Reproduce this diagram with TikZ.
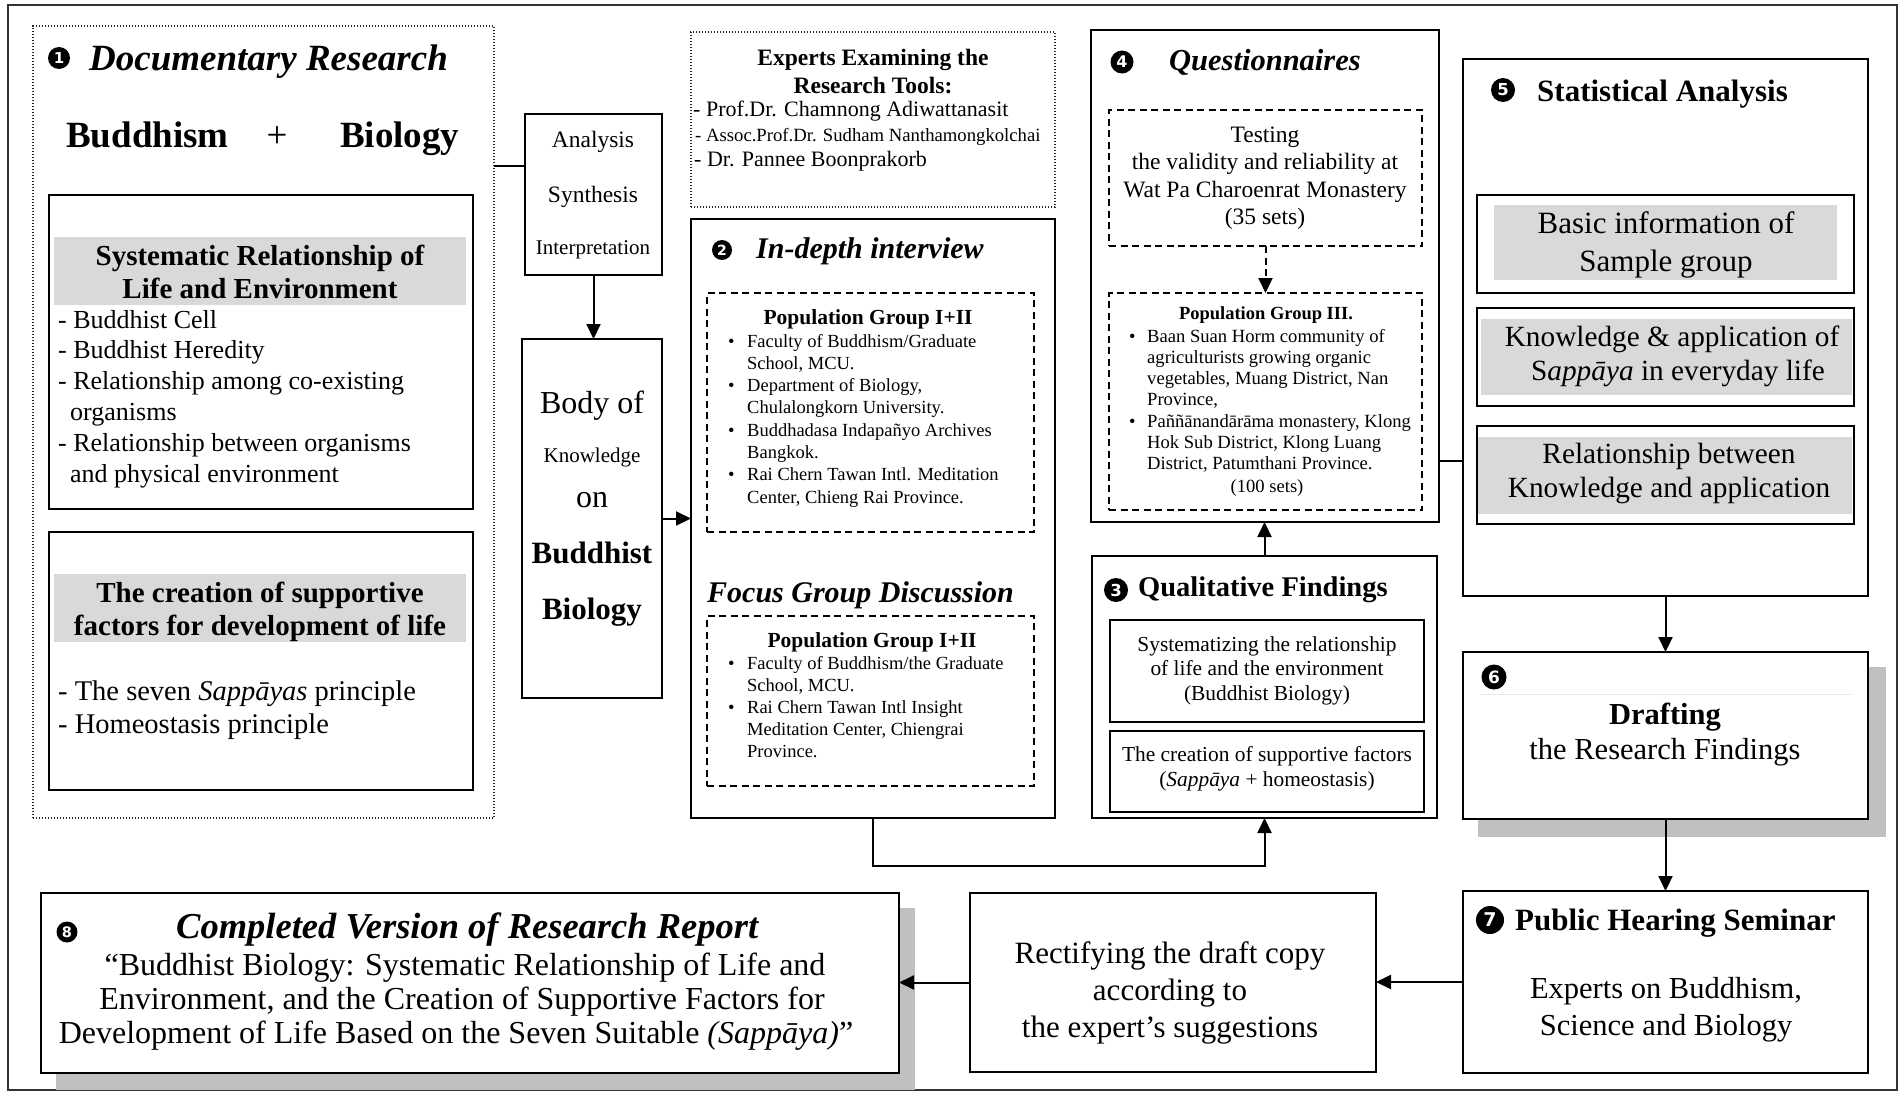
\documentclass[tikz,border=0pt]{standalone}
\usepackage{fontspec}
\setmainfont{Liberation Serif}
\newfontfamily\digitfont{DejaVu Sans}
\usetikzlibrary{arrows.meta,fit}
\definecolor{bandgray}{HTML}{D9D9D9}
\definecolor{shgray}{HTML}{BFBFBF}
\newcommand\fsz[2]{\fontsize{#1}{#2}\selectfont}
\newcommand\mlc[1]{\begin{tabular}[t]{@{}c@{}}#1\end{tabular}}
\newcommand\mll[1]{\begin{tabular}[t]{@{}l@{}}#1\end{tabular}}
\newlength\bulw
\newcommand\bul{\makebox[\bulw][l]{\textbullet}}
\newcommand\ind{\hspace*{\bulw}}
\begin{document}
\begin{tikzpicture}[x=1pt,y=-1pt,
  box/.style={draw=black,line width=2pt,inner sep=0pt,outer sep=0pt},
  dbox/.style={draw=black,line width=1.6pt,dash pattern=on 7pt off 4.5pt,inner sep=0pt,outer sep=0pt},
  dotbox/.style={draw=black!85,line width=1.3pt,dash pattern=on 1.3pt off 1.7pt,inner sep=0pt,outer sep=0pt},
  band/.style={fill=bandgray,inner sep=0pt,outer sep=0pt},
  shad/.style={fill=shgray,inner sep=0pt,outer sep=0pt},
  txt/.style={inner sep=0pt,anchor=base},
  txtl/.style={inner sep=0pt,anchor=base west},
  numc/.style={circle,fill=black,text=white,inner sep=0pt},
  conn/.style={line width=2pt},
  arr/.style={line width=2pt,-{Triangle[length=15pt,width=14pt]}},
]
\useasboundingbox (0,0) rectangle (1904,1095);
\fill[white] (0,0) rectangle (1904,1095);
% outer frame
\node[draw=black!80,line width=1.5pt,inner sep=0pt,fit={(8,5)(1897,1090)}] (frame) {};

% shadows
\node[shad,fit={(1478,667)(1886,837)}] (draftsh) {};
\node[shad,fit={(56,908)(915,1090)}] (compsh) {};

% bands
\node[band,fit={(54,237)(466,305)}] (sysband) {};
\node[band,fit={(54,574)(466,642)}] (creband) {};
\node[band,fit={(1494,205)(1837,280)}] (saband) {};
\node[band,fit={(1481,319)(1852,395)}] (sbband) {};
\node[band,fit={(1478,437)(1852,514)}] (scband) {};

% boxes
\node[dotbox,fit={(33,26)(494,818)}] (doc) {};
\node[box,fit={(49,195)(473,509)}] (sys) {};
\node[box,fit={(49,532)(473,790)}] (cre) {};
\node[box,fit={(525,114)(662,275)}] (ana) {};
\node[box,fit={(522,339)(662,698)}] (body) {};
\node[dotbox,fit={(691,32)(1055,207)}] (exp) {};
\node[box,fit={(691,219)(1055,818)}] (indepth) {};
\node[dbox,fit={(707,293)(1034,532)}] (popa) {};
\node[dbox,fit={(707,616)(1034,786)}] (popb) {};
\node[box,fit={(1092,556)(1437,818)}] (qual) {};
\node[box,fit={(1110,620)(1424,722)}] (qa) {};
\node[box,fit={(1110,731)(1424,812)}] (qb) {};
\node[box,fit={(1091,30)(1439,522)}] (quest) {};
\node[dbox,fit={(1109,110)(1422,246)}] (test) {};
\node[dbox,fit={(1109,293)(1422,510)}] (popc) {};
\node[box,fit={(1463,59)(1868,596)}] (stat) {};
\node[box,fit={(1477,195)(1854,293)}] (sa) {};
\node[box,fit={(1477,308)(1854,406)}] (sb) {};
\node[box,fit={(1477,426)(1854,524)}] (sc) {};
\node[box,fill=white,fit={(1463,652)(1868,819)}] (draft) {};
\node[box,fit={(1463,891)(1868,1073)}] (pub) {};
\node[box,fit={(970,893)(1376,1072)}] (rect) {};
\node[box,fill=white,fit={(41,893)(899,1073)}] (comp) {};
\draw[black!8,line width=1pt] (1480,694) -- (1852,694);

% number circles
\node[numc,minimum size=22pt,font=\digitfont\bfseries\fsz{15}{15}] (n1) at (59,58) {1};
\node[numc,minimum size=20pt,font=\digitfont\bfseries\fsz{14}{14}] (n2) at (722,250) {2};
\node[numc,minimum size=24pt,font=\digitfont\bfseries\fsz{16.5}{17}] (n3) at (1116,590) {3};
\node[numc,minimum size=23pt,font=\digitfont\bfseries\fsz{16}{16}] (n4) at (1122,62) {4};
\node[numc,minimum size=24pt,font=\digitfont\bfseries\fsz{16.5}{17}] (n5) at (1503,90) {5};
\node[numc,minimum size=25pt,font=\digitfont\bfseries\fsz{17}{17}] (n6) at (1494,677) {6};
\node[numc,minimum size=28pt,font=\digitfont\bfseries\fsz{19}{19}] (n7) at (1490,920) {7};
\node[numc,minimum size=21pt,font=\digitfont\bfseries\fsz{14.5}{15}] (n8) at (67,932) {8};

% Box 1 texts
\node[txtl] (t1) at (89,70) {\fsz{37}{40}\bfseries\itshape Documentary Research};
\node[txtl] (bud) at (66,147) {\fsz{37}{40}\bfseries Buddhism};
\node[txt] (plus) at (277,147) {\fsz{37}{40}+};
\node[txtl] (bio) at (340,147) {\fsz{37}{40}\bfseries Biology};
\node[txt] (sysh) at (260,265) {\fsz{29}{33}\bfseries\mlc{Systematic Relationship of\\Life and Environment}};
\node[txtl] (sysl) at (58,328) {\fsz{26}{30.8}\mll{- Buddhist Cell\\- Buddhist Heredity\\- Relationship among co-existing\\\hspace*{12pt}organisms\\- Relationship between organisms\\\hspace*{12pt}and physical environment}};
\node[txt] (creh) at (260,602) {\fsz{29}{33}\bfseries\mlc{The creation of supportive\\factors for development of life}};
\node[txtl] (crel) at (58,700) {\fsz{28.5}{33}\mll{- The seven \textit{Sappāyas} principle\\- Homeostasis principle}};

% Analysis
\node[txt] (a1) at (593,147) {\fsz{23.5}{26}Analysis};
\node[txt] (a2) at (593,202) {\fsz{23.5}{26}Synthesis};
\node[txt] (a3) at (593,254) {\fsz{21}{24}Interpretation};

% Body of knowledge
\node[txt] (b1) at (592,413) {\fsz{32}{34}Body of};
\node[txt] (b2) at (592,462) {\fsz{21}{24}Knowledge};
\node[txt] (b3) at (592,507) {\fsz{32}{34}on};
\node[txt] (b4) at (592,563) {\fsz{31}{34}\bfseries Buddhist};
\node[txt] (b5) at (592,619) {\fsz{31}{34}\bfseries Biology};

% Experts
\node[txt] (exph) at (873,65) {\fsz{23.5}{28}\bfseries\mlc{Experts Examining the\\Research Tools:}};
\node[txtl] (e1) at (693,116) {\fsz{22}{25}- Prof.Dr. Chamnong Adiwattanasit};
\node[txtl] (e2) at (695,141) {\fsz{18.7}{22}- Assoc.Prof.Dr. Sudham Nanthamongkolchai};
\node[txtl] (e3) at (694,166) {\fsz{22}{25}- Dr. Pannee Boonprakorb};

% In-depth
\node[txtl] (t2) at (756,258) {\fsz{30}{32}\bfseries\itshape In-depth interview};
\node[txt] (pah) at (868,324) {\fsz{21.5}{24}\bfseries Population Group I+II};
\node[txtl] (pal) at (728,347) {\fsz{18.5}{22.3}\setlength\bulw{19pt}\mll{\bul Faculty of Buddhism/Graduate\\\ind School, MCU.\\\bul Department of Biology,\\\ind Chulalongkorn University.\\\bul Buddhadasa Indapañyo Archives\\\ind Bangkok.\\\bul Rai Chern Tawan Intl. Meditation\\\ind Center, Chieng Rai Province.}};
\node[txtl] (tf) at (707,602) {\fsz{30}{32}\bfseries\itshape Focus Group Discussion};
\node[txt] (pbh) at (872,647) {\fsz{21.5}{24}\bfseries Population Group I+II};
\node[txtl] (pbl) at (728,669) {\fsz{18.5}{22}\setlength\bulw{19pt}\mll{\bul Faculty of Buddhism/the Graduate\\\ind School, MCU.\\\bul Rai Chern Tawan Intl Insight\\\ind Meditation Center, Chiengrai\\\ind Province.}};

% Qualitative
\node[txtl] (t3) at (1138,596) {\fsz{28.5}{30}\bfseries Qualitative Findings};
\node[txt] (qat) at (1267,651) {\fsz{21.4}{24.5}\mlc{Systematizing the relationship\\of life and the environment\\(Buddhist Biology)}};
\node[txt] (qbt) at (1267,761) {\fsz{21.4}{25}\mlc{The creation of supportive factors\\(\textit{Sappāya} + homeostasis)}};

% Questionnaires
\node[txtl] (t4) at (1169,70) {\fsz{30.5}{32}\bfseries\itshape Questionnaires};
\node[txt] (testt) at (1265,142) {\fsz{23.5}{27.5}\mlc{Testing\\the validity and reliability at\\Wat Pa Charoenrat Monastery\\(35 sets)}};
\node[txt] (pch) at (1266,319) {\fsz{18.5}{21}\bfseries Population Group III.};
\node[txtl] (pcl) at (1129,342) {\fsz{18.6}{21.3}\setlength\bulw{18pt}\mll{\bul Baan Suan Horm community of\\\ind agriculturists growing organic\\\ind vegetables, Muang District, Nan\\\ind Province,\\\bul Paññānandārāma monastery, Klong\\\ind Hok Sub District, Klong Luang\\\ind District, Patumthani Province.}};
\node[txt] (pcs) at (1267,492) {\fsz{18.6}{21}(100 sets)};

% Statistical
\node[txtl] (t5) at (1537,101) {\fsz{31}{33}\bfseries Statistical Analysis};
\node[txt] (sat) at (1666,233) {\fsz{31}{38}\mlc{Basic information of\\Sample group}};
\node[txt] (sbt1) at (1672,346) {\fsz{29.3}{34}Knowledge \& application of};
\node[txt] (sbt2) at (1678,380) {\fsz{29.3}{34}S\textit{appāya} in everyday life};
\node[txt] (sct) at (1669,463) {\fsz{29.3}{34}\mlc{Relationship between\\Knowledge and application}};

% Drafting
\node[txt] (d1) at (1665,724) {\fsz{30.5}{35}\bfseries Drafting};
\node[txt] (d2) at (1665,759) {\fsz{30.5}{35}the Research Findings};

% Public hearing
\node[txtl] (t7) at (1515,930) {\fsz{31}{33}\bfseries Public Hearing Seminar};
\node[txt] (pubt) at (1666,998) {\fsz{30.5}{37}\mlc{Experts on Buddhism,\\Science and Biology}};

% Rectify
\node[txt] (rectt) at (1170,963) {\fsz{31}{37}\mlc{Rectifying the draft copy\\according to\\the expert’s suggestions}};

% Completed
\node[txtl] (t8) at (176,938) {\fsz{36.5}{38}\bfseries\itshape Completed Version of Research Report};
\node[txt] (c1) at (465,975) {\fsz{32}{34}“Buddhist Biology: Systematic Relationship of Life and};
\node[txt] (c2) at (462,1009) {\fsz{32}{34}Environment, and the Creation of Supportive Factors for};
\node[txt] (c3) at (456,1043) {\fsz{32}{34}Development of Life Based on the Seven Suitable \textit{(Sappāya)}”};

% connectors
\coordinate (ya) at (0,166);
\coordinate (yb) at (0,461);
\draw[conn] (doc.east |- ya) -- (ana.west |- ya);
\draw[arr] (ana.south) -- (ana.south |- body.north);
\draw[arr] (body.east) -- (indepth.west |- body.east);
\draw[arr] (indepth.south) -- ++(0,48) -| (qual.south);
\draw[arr] (qual.north) -- (qual.north |- quest.south);
\draw[arr,dash pattern=on 7pt off 4.5pt] (test.south) -- (test.south |- popc.north);
\draw[conn] (quest.east |- yb) -- (stat.west |- yb);
\draw[arr] (stat.south) -- (stat.south |- draft.north);
\draw[arr] (draft.south) -- (draft.south |- pub.north);
\draw[arr] (pub.west) -- (rect.east |- pub.west);
\draw[arr] (rect.west) -- (comp.east |- rect.west);
\end{tikzpicture}
\end{document}
